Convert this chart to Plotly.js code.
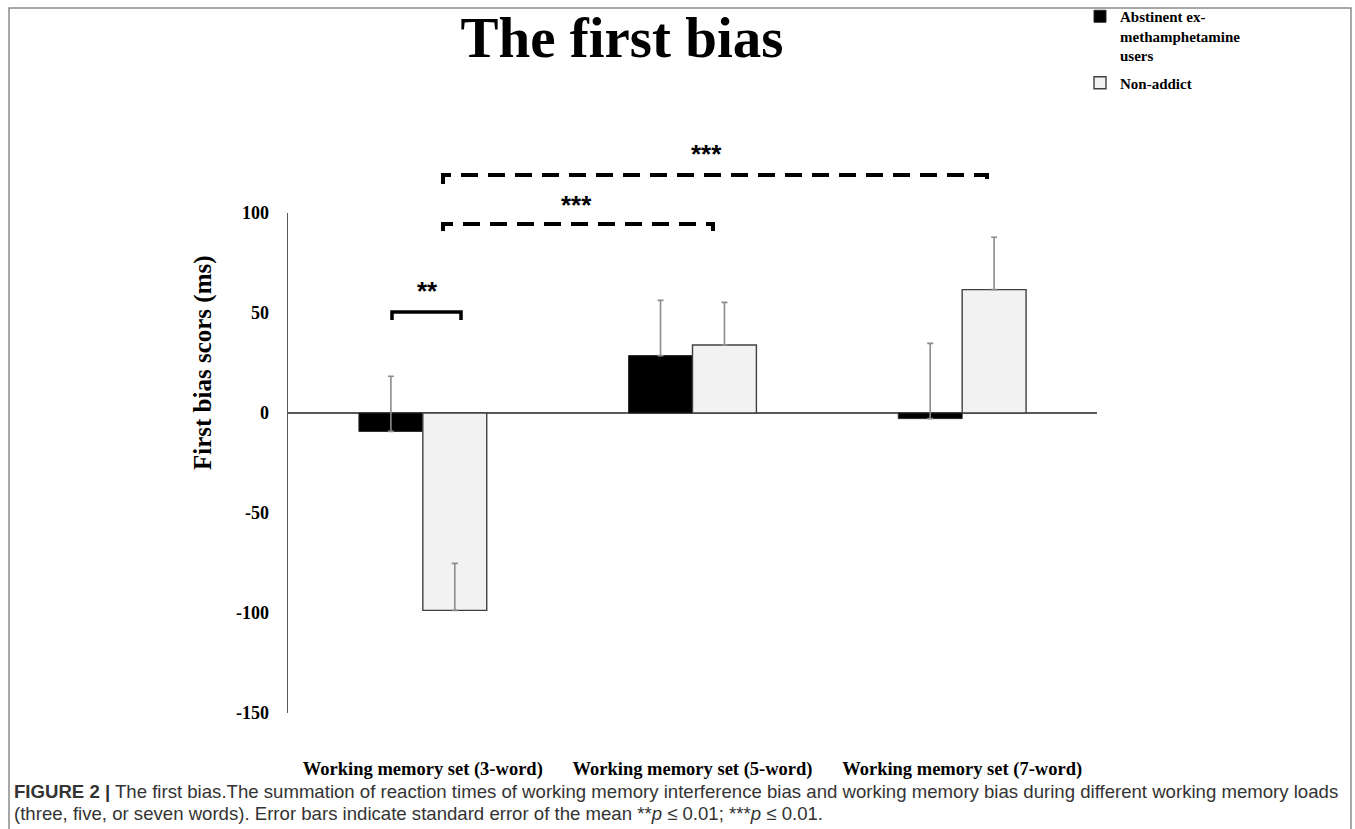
<!DOCTYPE html>
<html>
<head>
<meta charset="utf-8">
<script src="https://cdn.plot.ly/plotly-3.0.1.min.js"></script>
<style>
  html, body { margin: 0; padding: 0; background: #ffffff; }
  #chart { width: 1355px; height: 829px; }
</style>
</head>
<body>
<div id="chart"></div>
<script>
// ---- data ----
const categories = ["Working memory set (3-word)", "Working memory set (5-word)", "Working memory set (7-word)"];
const exUsersName = "Abstinent ex-<br>methamphetamine<br>users";
const exUsersValues = [-9.2, 28.7, -2.8];
const exUsersErr = [27.6, 27.6, 37.6];
const nonAddictName = "Non-addict";
const nonAddictValues = [-98.7, 34.0, 61.7];
const nonAddictErr = [23.5, 21.3, 26.2];
const yTicks = [-150, -100, -50, 0, 50, 100];
const zeros = [0, 0, 0];

// ---- geometry helpers (pixel -> paper) ----
const W = 1355, H = 829;
const M = { l: 288, r: 258, t: 213, b: 116 };
const pw = W - M.l - M.r, ph = H - M.t - M.b;
const px = v => (v - M.l) / pw;
const py = v => (H - M.b - v) / ph;

const serif = "Liberation Serif, Times New Roman, serif";
const sans = "Liberation Sans, Arial, sans-serif";

const traces = [
  {
    type: "bar", name: exUsersName, legendgroup: "ex", x: categories, y: exUsersValues,
    marker: { color: "#000000", line: { color: "#262626", width: 1 } },
    error_y: { type: "data", symmetric: false, array: exUsersErr, arrayminus: zeros,
               color: "#8c8c8c", thickness: 1.6, width: 3 }
  },
  {
    type: "bar", name: nonAddictName, legendgroup: "non", x: categories, y: nonAddictValues,
    marker: { color: "#f2f2f2", line: { color: "#404040", width: 1.4 } },
    error_y: { type: "data", symmetric: false, array: nonAddictErr, arrayminus: zeros,
               color: "#8c8c8c", thickness: 1.6, width: 3 }
  }
];

function bracketPath(x0, x1, yTop, yBot) {
  return `M ${px(x0)},${py(yBot)} L ${px(x0)},${py(yTop)} L ${px(x1)},${py(yTop)} L ${px(x1)},${py(yBot)}`;
}

const shapes = [
  // chart frame
  { type: "rect", xref: "paper", yref: "paper", x0: px(9), x1: px(1351), y0: py(845), y1: py(8),
    line: { color: "#8a8a8a", width: 1.5 }, layer: "below" },
  // ** solid bracket
  { type: "path", xref: "paper", yref: "paper", path: bracketPath(392, 461, 312, 320),
    line: { color: "#000000", width: 3.5 } },
  // *** lower dashed bracket
  { type: "path", xref: "paper", yref: "paper", path: bracketPath(443, 713, 224, 231),
    line: { color: "#000000", width: 4, dash: "17px,10px" } },
  // *** upper dashed bracket
  { type: "path", xref: "paper", yref: "paper", path: bracketPath(443, 987, 175, 184),
    line: { color: "#000000", width: 4, dash: "17px,10px" } }
];

const starFont = { family: sans, size: 26, weight: "bold", color: "#000" };

const annotations = [
  { text: "First bias scors (ms)", xref: "paper", yref: "paper", x: px(203), y: py(363),
    xanchor: "center", yanchor: "middle", textangle: -90, showarrow: false,
    font: { family: serif, size: 25, weight: "bold", color: "#000" } },
  { text: "**", xref: "paper", yref: "paper", x: px(427), y: py(291), xanchor: "center", yanchor: "middle",
    showarrow: false, font: starFont },
  { text: "***", xref: "paper", yref: "paper", x: px(576), y: py(205), xanchor: "center", yanchor: "middle",
    showarrow: false, font: starFont },
  { text: "***", xref: "paper", yref: "paper", x: px(706), y: py(154), xanchor: "center", yanchor: "middle",
    showarrow: false, font: starFont },
  { text: "<b>FIGURE 2 |</b> The first bias.The summation of reaction times of working memory interference bias and working memory bias during different working memory loads",
    xref: "paper", yref: "paper", x: px(12), y: py(791), xanchor: "left", yanchor: "middle", align: "left",
    showarrow: false, font: { family: sans, size: 18.6, color: "#333333" } },
  { text: "(three, five, or seven words). Error bars indicate standard error of the mean **<i>p</i> ≤ 0.01; ***<i>p</i> ≤ 0.01.",
    xref: "paper", yref: "paper", x: px(12), y: py(813), xanchor: "left", yanchor: "middle", align: "left",
    showarrow: false, font: { family: sans, size: 18.6, color: "#333333" } }
];

const layout = {
  width: W, height: H, autosize: false,
  margin: { l: M.l, r: M.r, t: M.t, b: M.b, pad: 0, autoexpand: false },
  paper_bgcolor: "#ffffff", plot_bgcolor: "rgba(0,0,0,0)",
  font: { family: serif, color: "#000000" },
  title: { text: "The first bias", x: 0.459, xref: "container", xanchor: "center", y: 1 - 37 / H, yref: "container", yanchor: "middle",
           font: { family: serif, size: 57, weight: "bold", color: "#000" } },
  barmode: "group", bargap: 0.526, bargroupgap: 0,
  xaxis: { type: "category", categoryorder: "array", categoryarray: categories, range: [-0.5, 2.5],
           showline: false, showgrid: false, zeroline: false, ticks: "", ticklabelstandoff: 42,
           tickfont: { family: serif, size: 18.5, weight: "bold", color: "#000" }, fixedrange: true },
  yaxis: { range: [-150, 100], tickvals: yTicks, ticktext: yTicks.map(String),
           showline: true, linecolor: "#595959", linewidth: 1.3, ticks: "", ticklabelstandoff: 14,
           showgrid: false, zeroline: true, zerolinecolor: "#595959", zerolinewidth: 1.3,
           tickfont: { family: serif, size: 18, weight: "bold", color: "#000" }, fixedrange: true },
  showlegend: true,
  legend: { x: px(1080), y: py(0), xanchor: "left", yanchor: "top", valign: "top", traceorder: "grouped",
            tracegroupgap: 5, bgcolor: "rgba(0,0,0,0)", borderwidth: 0, itemwidth: 30,
            font: { family: serif, size: 15, weight: "bold", color: "#000" } },
  shapes: shapes,
  annotations: annotations
};

Plotly.newPlot("chart", traces, layout, { displayModeBar: false, staticPlot: true });
</script>
</body>
</html>
